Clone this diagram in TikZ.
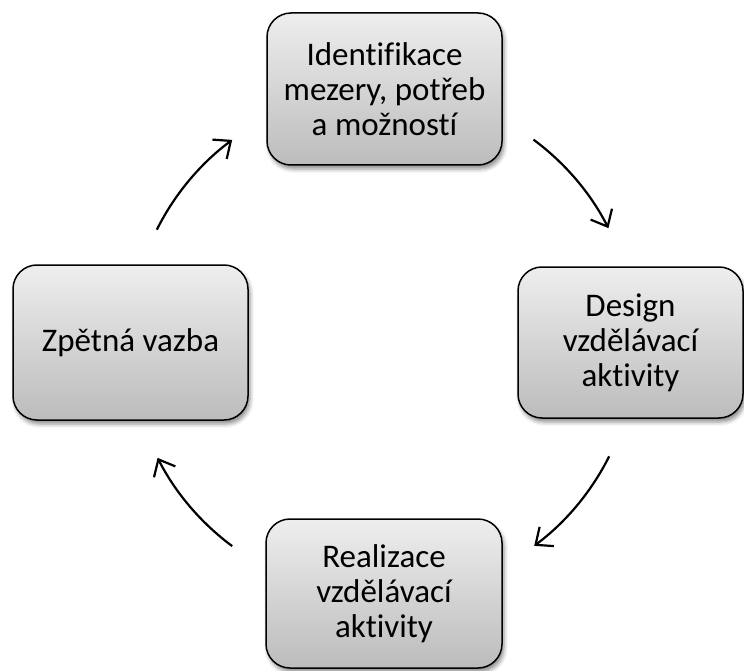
\documentclass[tikz,border=0pt]{standalone}
\usepackage{fontspec}
\setmainfont{Carlito}[Ligatures=NoCommon]
\usetikzlibrary{arrows.meta,calc,shadows.blur}
\definecolor{boxtop}{RGB}{238,238,238}
\definecolor{boxbot}{RGB}{188,188,188}
\tikzset{
  stepbox/.style={rectangle, rounded corners=24pt, draw=black, line width=1.5pt,
    top color=boxtop, bottom color=boxbot, align=center,
    font=\fontsize{33}{35}\selectfont, inner sep=0pt,
    blur shadow={shadow xshift=2pt, shadow yshift=-4pt, shadow blur radius=4pt, shadow opacity=45}},
  cyc/.style={line width=2.2pt, -{Straight Barb[length=14pt,width=24pt,line width=2.2pt]}}
}
\begin{document}
\begin{tikzpicture}[x=1pt,y=1pt]
\useasboundingbox (0,0) rectangle (744,-671);
\node[stepbox, minimum width=235pt, minimum height=152pt] (ident) at (384.5,-89) {Identifikace\\mezery, potřeb\\a možností};
\node[stepbox, minimum width=225pt, minimum height=151pt] (design) at (630.5,-342.5) {Design\\vzdělávací\\aktivity};
\node[stepbox, minimum width=236pt, minimum height=149pt] (real) at (384,-593.5) {Realizace\\vzdělávací\\aktivity};
\node[stepbox, minimum width=235pt, minimum height=155pt] (zpet) at (130.5,-342.5) {Zpětná vazba};
\coordinate (c) at (383,-343);
\coordinate (a1) at ($(c)+(53.5:253)$);
\coordinate (a2) at ($(c)+(-26.6:253)$);
\coordinate (a3) at ($(c)+(-126.6:253)$);
\coordinate (a4) at ($(c)+(153.4:253)$);
\draw[cyc] (a1) arc[start angle=53.5, end angle=27, radius=253];
\draw[cyc] (a2) arc[start angle=-26.6, end angle=-53.3, radius=253];
\draw[cyc] (a3) arc[start angle=-126.6, end angle=-153, radius=253];
\draw[cyc] (a4) arc[start angle=153.4, end angle=126.6, radius=253];
\end{tikzpicture}
\end{document}
